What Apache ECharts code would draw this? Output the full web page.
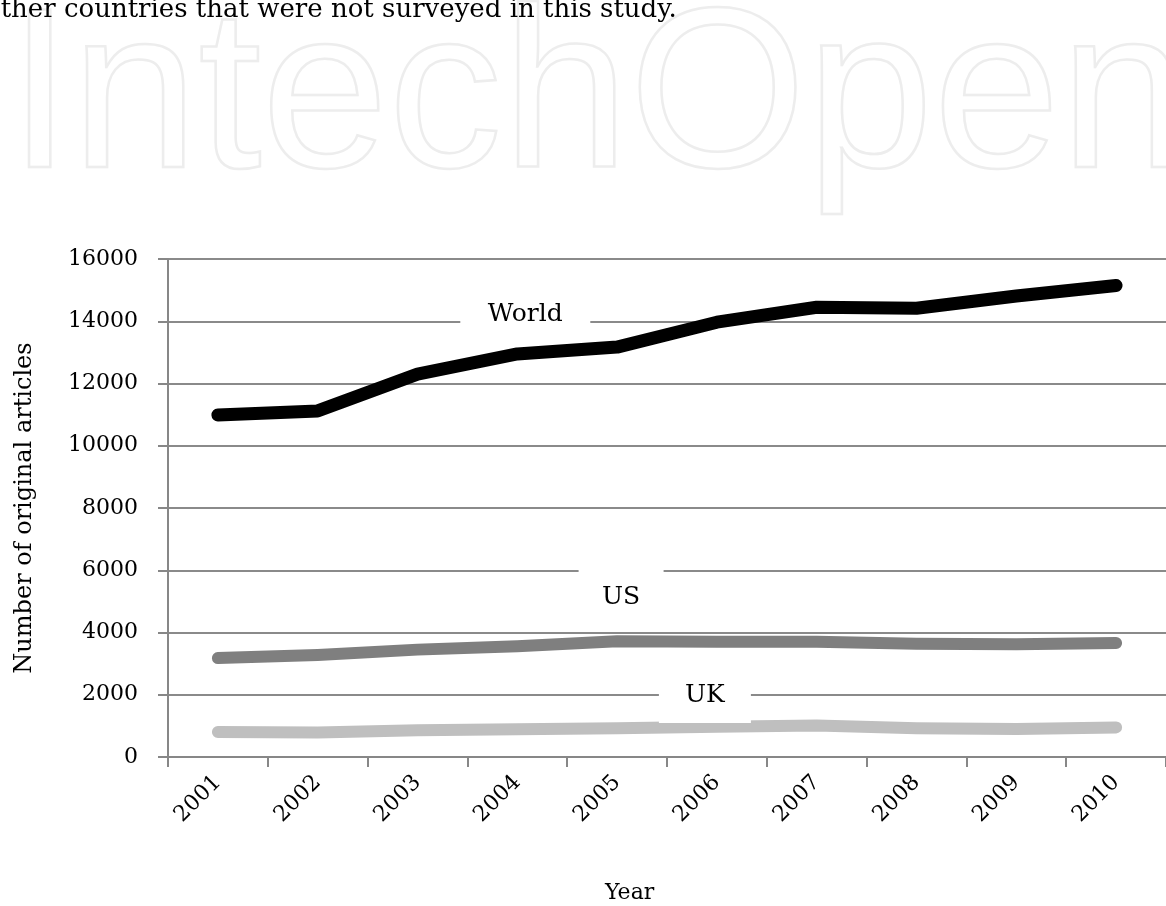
<!DOCTYPE html>
<html>
<head>
<meta charset="utf-8">
<script src="https://cdn.jsdelivr.net/npm/echarts@6/dist/echarts.min.js"></script>
<style>
html,body{margin:0;padding:0;background:#fff;}
#chart{width:1166px;height:906px;}
</style>
</head>
<body>
<div id="chart"></div>
<script>
// ---- data ----
var years = ['2001','2002','2003','2004','2005','2006','2007','2008','2009','2010'];
var world = [10990, 11120, 12300, 12950, 13170, 13970, 14450, 14420, 14810, 15150];
var us    = [3180, 3280, 3450, 3560, 3720, 3700, 3700, 3640, 3620, 3660];
var uk    = [800, 790, 860, 890, 920, 970, 1010, 920, 900, 950];
var yTicks = [0, 2000, 4000, 6000, 8000, 10000, 12000, 14000, 16000];
var seriesNames = ['World', 'US', 'UK'];

// ---- styling / layout ----
var SERIF = '"DejaVu Serif", "Liberation Serif", serif';
var chart = echarts.init(document.getElementById('chart'), null, {renderer: 'canvas'});

function labelPoint(name, year, value, size, offset) {
  return {
    symbol: 'rect',
    symbolSize: size,
    symbolOffset: offset,
    silent: true,
    label: {
      show: true, position: 'inside', formatter: name,
      color: '#000', fontFamily: SERIF, fontSize: 25
    },
    itemStyle: {color: '#ffffff'},
    data: [{coord: [year, value]}]
  };
}

var option = {
  backgroundColor: '#ffffff',
  animation: false,
  grid: {left: 168, right: -8, top: 259, bottom: 149, containLabel: false},
  graphic: [
    {
      type: 'text', z: -10, silent: true,
      style: {
        x: 8, y: -10, text: 'IntechOpen',
        font: '228px "Liberation Sans", Arial, sans-serif',
        verticalAlign: 'top',
        fill: 'rgba(255,255,255,0)', stroke: '#ededed', lineWidth: 2.5
      }
    },
    {
      type: 'text', silent: true, z: 10,
      style: {
        x: -15, y: 23, text: 'other countries that were not surveyed in this study.',
        font: '26px ' + SERIF, fill: '#000', verticalAlign: 'bottom'
      }
    },
    {
      type: 'text', silent: true,
      style: {
        x: 605, y: 893, text: 'Year',
        font: '22px ' + SERIF, fill: '#000', verticalAlign: 'middle'
      }
    }
  ],
  xAxis: {
    type: 'category',
    data: years,
    boundaryGap: true,
    axisLine: {show: true, lineStyle: {color: '#878787', width: 2}},
    axisTick: {show: true, length: 10, inside: false, alignWithLabel: false,
      lineStyle: {color: '#878787', width: 2}},
    axisLabel: {rotate: 45, margin: 22, color: '#000', fontFamily: SERIF, fontSize: 22},
    splitLine: {show: false}
  },
  yAxis: {
    type: 'value',
    min: yTicks[0], max: yTicks[yTicks.length - 1], interval: 2000,
    name: 'Number of original articles',
    nameLocation: 'middle', nameGap: 131, nameRotate: 90,
    nameTextStyle: {color: '#000', fontFamily: SERIF, fontSize: 24},
    axisLine: {show: true, lineStyle: {color: '#878787', width: 2}},
    axisTick: {show: true, length: 10, inside: false, lineStyle: {color: '#878787', width: 2}},
    axisLabel: {margin: 30, color: '#000', fontFamily: SERIF, fontSize: 22,
      formatter: function (v) { return String(v); }},
    splitLine: {show: true, lineStyle: {color: '#8a8a8a', width: 2}}
  },
  series: [
    {
      name: seriesNames[0], type: 'line', data: world, symbol: 'none', smooth: false,
      lineStyle: {color: '#000000', width: 13, cap: 'round', join: 'round'},
      markPoint: labelPoint(seriesNames[0], '2004', 14230, [130, 40], [8, 0])
    },
    {
      name: seriesNames[1], type: 'line', data: us, symbol: 'none',
      lineStyle: {color: '#7f7f7f', width: 12, cap: 'round', join: 'round'},
      markPoint: labelPoint(seriesNames[1], '2005', 5130, [85, 56], [4, 0])
    },
    {
      name: seriesNames[2], type: 'line', data: uk, symbol: 'none',
      lineStyle: {color: '#bfbfbf', width: 12, cap: 'round', join: 'round'},
      markPoint: labelPoint(seriesNames[2], '2006', 1990, [92, 56], [-12, 0])
    }
  ]
};
chart.setOption(option);
</script>
</body>
</html>
